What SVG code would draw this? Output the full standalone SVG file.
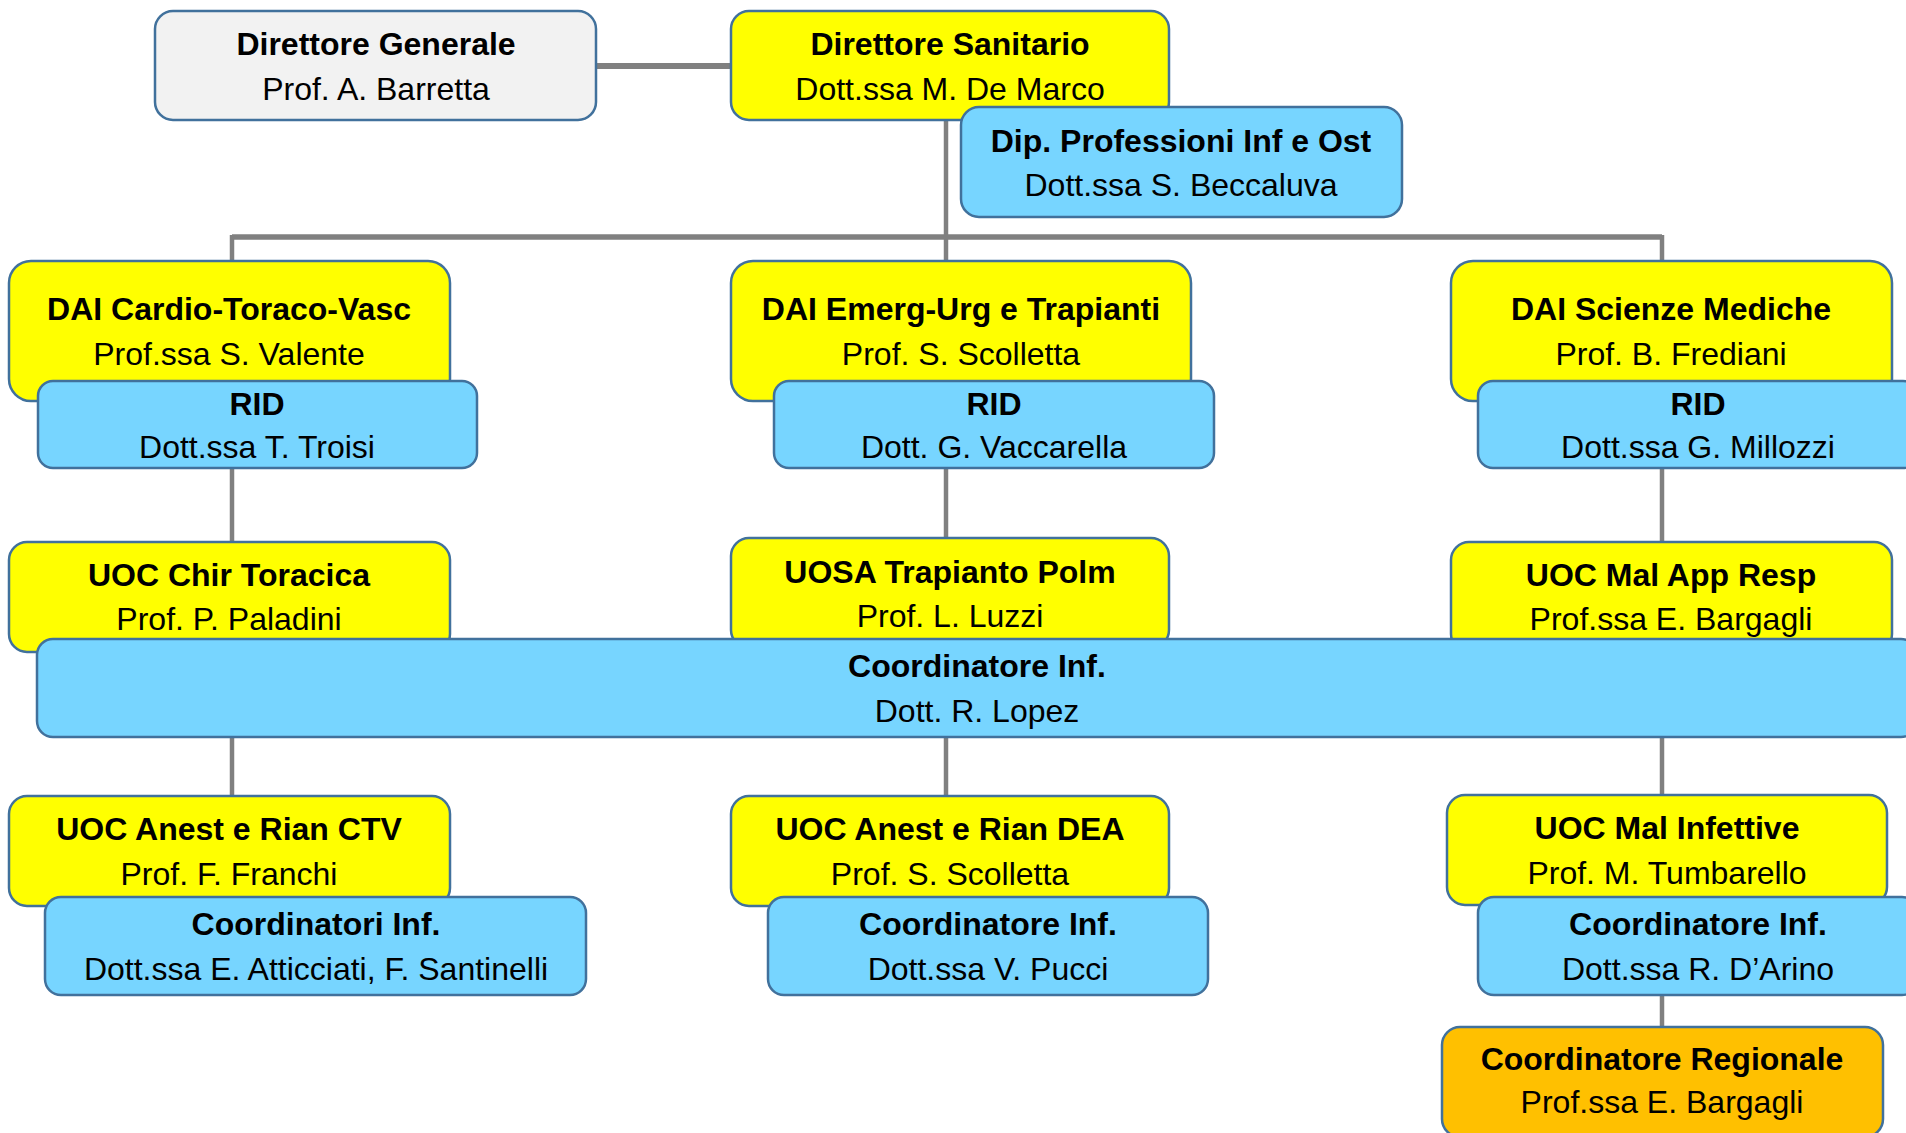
<svg xmlns="http://www.w3.org/2000/svg" width="1906" height="1133" viewBox="0 0 1906 1133">
<style>
.box{stroke:#41719C;stroke-width:2.5}
.y{fill:#FFFF00}
.b{fill:#77D5FF}
.g{fill:#F2F2F2}
.o{fill:#FFC000}
text{font-family:"Liberation Sans",Arial,sans-serif;font-size:32px;fill:#000;text-anchor:middle}
.t{font-weight:bold}
.c{fill:none;stroke:#808080;stroke-width:4.5}
</style>
<rect width="1906" height="1133" fill="#fff"/>
<g id="connectors" class="c">
<line x1="596" y1="66" x2="731" y2="66" stroke-width="6"/>
<line x1="946" y1="120" x2="946" y2="239"/>
<line x1="232" y1="237" x2="1662" y2="237" stroke-width="5.5"/>
<line x1="232" y1="235" x2="232" y2="262"/>
<line x1="946" y1="235" x2="946" y2="262"/>
<line x1="1662" y1="235" x2="1662" y2="262"/>
<line x1="232" y1="468" x2="232" y2="543"/>
<line x1="946" y1="468" x2="946" y2="539"/>
<line x1="1662" y1="468" x2="1662" y2="543"/>
<line x1="232" y1="737" x2="232" y2="797"/>
<line x1="946" y1="737" x2="946" y2="797"/>
<line x1="1662" y1="737" x2="1662" y2="796"/>
<line x1="1662" y1="995" x2="1662" y2="1028"/>
</g>
<g id="dg"><rect class="box g" x="155" y="11" width="441" height="109" rx="18"/><text class="t" x="376" y="55">Direttore Generale</text><text x="376" y="100">Prof. A. Barretta</text></g>
<g id="ds"><rect class="box y" x="731" y="11" width="438" height="109" rx="18"/><text class="t" x="950" y="55">Direttore Sanitario</text><text x="950" y="100">Dott.ssa M. De Marco</text></g>
<g id="dip"><rect class="box b" x="961" y="107" width="441" height="110" rx="18"/><text class="t" x="1181" y="152">Dip. Professioni Inf e Ost</text><text x="1181" y="196">Dott.ssa S. Beccaluva</text></g>

<g id="dai-ctv"><rect class="box y" x="9" y="261" width="441" height="140" rx="22"/><text class="t" x="229" y="320">DAI Cardio-Toraco-Vasc</text><text x="229" y="365">Prof.ssa S. Valente</text></g>
<g id="rid-ctv"><rect class="box b" x="38" y="381" width="439" height="87" rx="15"/><text class="t" x="257" y="415">RID</text><text x="257" y="458">Dott.ssa T. Troisi</text></g>
<g id="dai-dea"><rect class="box y" x="731" y="261" width="460" height="140" rx="22"/><text class="t" x="961" y="320">DAI Emerg-Urg e Trapianti</text><text x="961" y="365">Prof. S. Scolletta</text></g>
<g id="rid-dea"><rect class="box b" x="774" y="381" width="440" height="87" rx="15"/><text class="t" x="994" y="415">RID</text><text x="994" y="458">Dott. G. Vaccarella</text></g>
<g id="dai-sm"><rect class="box y" x="1451" y="261" width="441" height="140" rx="22"/><text class="t" x="1671" y="320">DAI Scienze Mediche</text><text x="1671" y="365">Prof. B. Frediani</text></g>
<g id="rid-sm"><rect class="box b" x="1478" y="381" width="440" height="87" rx="15"/><text class="t" x="1698" y="415">RID</text><text x="1698" y="458">Dott.ssa G. Millozzi</text></g>

<g id="uoc-chir"><rect class="box y" x="9" y="542" width="441" height="110" rx="18"/><text class="t" x="229" y="586">UOC Chir Toracica</text><text x="229" y="630">Prof. P. Paladini</text></g>
<g id="uosa-trap"><rect class="box y" x="731" y="538" width="438" height="110" rx="18"/><text class="t" x="950" y="583">UOSA Trapianto Polm</text><text x="950" y="627">Prof. L. Luzzi</text></g>
<g id="uoc-resp"><rect class="box y" x="1451" y="542" width="441" height="110" rx="18"/><text class="t" x="1671" y="586">UOC Mal App Resp</text><text x="1671" y="630">Prof.ssa E. Bargagli</text></g>
<g id="coord-lopez"><rect class="box b" x="37" y="639" width="1880" height="98" rx="16"/><text class="t" x="977" y="677">Coordinatore Inf.</text><text x="977" y="722">Dott. R. Lopez</text></g>

<g id="uoc-ctv"><rect class="box y" x="9" y="796" width="441" height="110" rx="18"/><text class="t" x="229" y="840">UOC Anest e Rian CTV</text><text x="229" y="885">Prof. F. Franchi</text></g>
<g id="coord-ctv"><rect class="box b" x="45" y="897" width="541" height="98" rx="16"/><text class="t" x="316" y="935">Coordinatori Inf.</text><text x="316" y="980">Dott.ssa E. Atticciati, F. Santinelli</text></g>
<g id="uoc-dea"><rect class="box y" x="731" y="796" width="438" height="110" rx="18"/><text class="t" x="950" y="840">UOC Anest e Rian DEA</text><text x="950" y="885">Prof. S. Scolletta</text></g>
<g id="coord-dea"><rect class="box b" x="768" y="897" width="440" height="98" rx="16"/><text class="t" x="988" y="935">Coordinatore Inf.</text><text x="988" y="980">Dott.ssa V. Pucci</text></g>
<g id="uoc-inf"><rect class="box y" x="1447" y="795" width="440" height="110" rx="18"/><text class="t" x="1667" y="839">UOC Mal Infettive</text><text x="1667" y="884">Prof. M. Tumbarello</text></g>
<g id="coord-inf"><rect class="box b" x="1478" y="897" width="440" height="98" rx="16"/><text class="t" x="1698" y="935">Coordinatore Inf.</text><text x="1698" y="980">Dott.ssa R. D’Arino</text></g>
<g id="coord-reg"><rect class="box o" x="1442" y="1027" width="441" height="110" rx="18"/><text class="t" x="1662" y="1070">Coordinatore Regionale</text><text x="1662" y="1113">Prof.ssa E. Bargagli</text></g>
</svg>
